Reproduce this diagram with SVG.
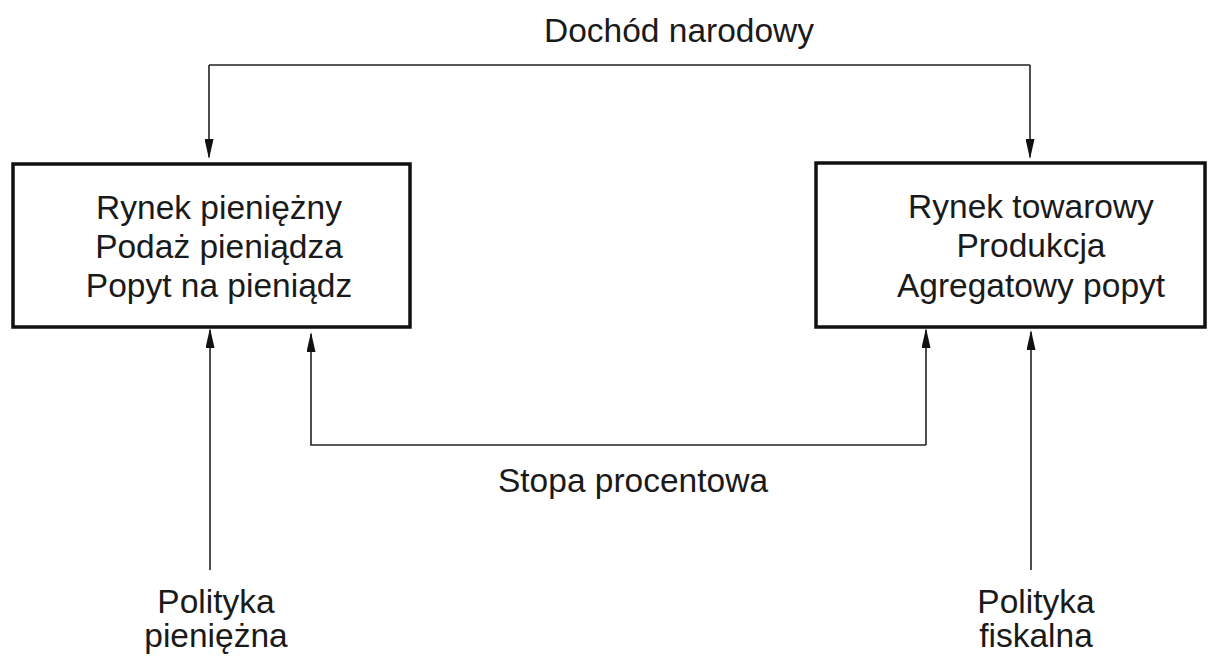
<svg xmlns="http://www.w3.org/2000/svg" width="1217" height="658" viewBox="0 0 1217 658">
<style>
.box{fill:#fff;stroke:#111;stroke-width:3.5}
.ln{fill:none;stroke:#222;stroke-width:1.6}
text{font-family:"Liberation Sans",Arial,sans-serif;font-size:33.5px;fill:#1a1a1a;text-anchor:middle}
</style>
<defs>
<marker id="ah" markerWidth="20" markerHeight="9" refX="18" refY="4.5" orient="auto" markerUnits="userSpaceOnUse" viewBox="0 0 20 9">
<path d="M0,0 L20,4.5 L0,9 Z" fill="#111"/>
</marker>
</defs>
<g id="connectors">
<path class="ln" d="M209,65 H1030 M209,65 V157" marker-end="url(#ah)"/>
<path class="ln" d="M1030,65 V157" marker-end="url(#ah)"/>
<path class="ln" d="M926,445 H311 V334" marker-end="url(#ah)"/>
<path class="ln" d="M926,445 V330" marker-end="url(#ah)"/>
<path class="ln" d="M210,570 V330" marker-end="url(#ah)"/>
<path class="ln" d="M1031,570 V332" marker-end="url(#ah)"/>
</g>
<g id="label-dochod"><text x="679" y="42">Dochód narodowy</text></g>
<g id="node-money">
<rect class="box" x="13" y="164" width="397" height="163"/>
<text x="219" y="219">Rynek pieniężny</text>
<text x="219" y="258">Podaż pieniądza</text>
<text x="219" y="297">Popyt na pieniądz</text>
</g>
<g id="node-goods">
<rect class="box" x="816" y="163" width="389" height="164"/>
<text x="1031" y="218">Rynek towarowy</text>
<text x="1031" y="257">Produkcja</text>
<text x="1031" y="297">Agregatowy popyt</text>
</g>
<g id="label-stopa"><text x="633" y="492">Stopa procentowa</text></g>
<g id="label-monetary">
<text x="216" y="613">Polityka</text>
<text x="216" y="647">pieniężna</text>
</g>
<g id="label-fiscal">
<text x="1036" y="613">Polityka</text>
<text x="1036" y="647">fiskalna</text>
</g>
</svg>
